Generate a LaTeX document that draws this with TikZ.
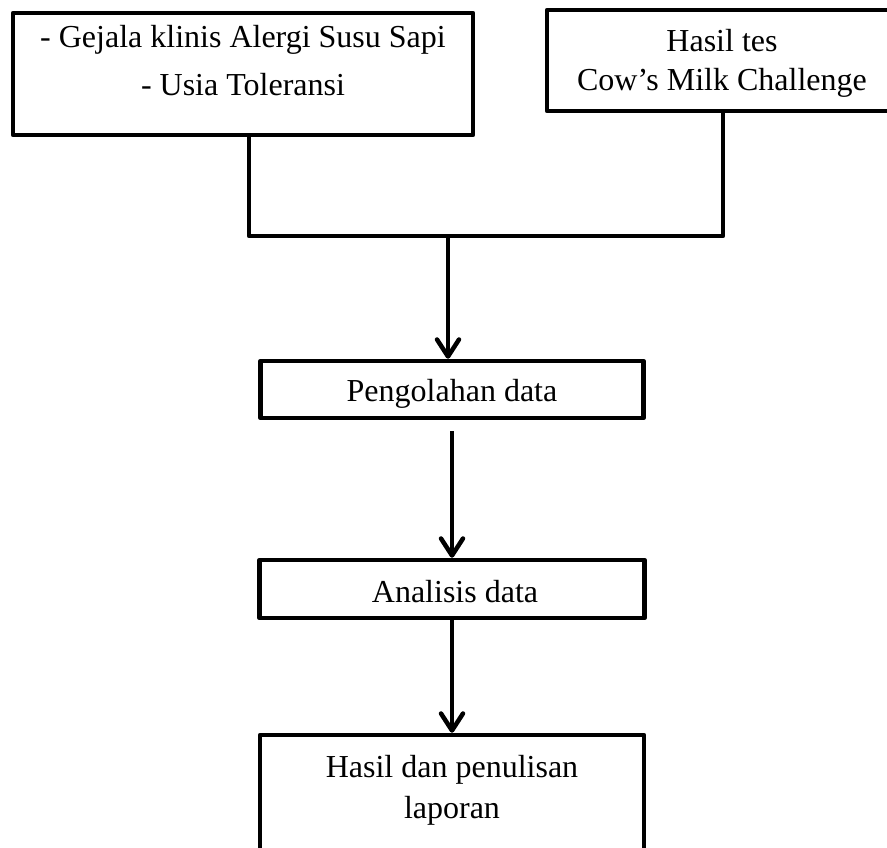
\documentclass[tikz,border=0pt]{standalone}
\usepackage{fontspec}
\setmainfont{Liberation Serif}
\usetikzlibrary{arrows.meta}

\tikzset{
    box/.style={draw, line width=4.5pt, line join=round, inner sep=0pt},
    lbl/.style={anchor=base, align=center, inner sep=0pt, font=\fontsize{32}{48}\selectfont},
    arrow/.style={line width=4.5pt, -{Straight Barb[length=17pt, width=22pt, round]}},
}

\begin{document}
\begin{tikzpicture}[x=1pt, y=-1pt]
    \useasboundingbox (0,0) rectangle (887,848);
    \clip (0,0) rectangle (887,848);

    % boxes
    \node[box, minimum width=460pt, minimum height=122pt] (gejala) at (243,74) {};
    \node[box, minimum width=350pt, minimum height=101pt] (hasilTes) at (722,60.5) {};
    \node[box, minimum width=383pt, minimum height=57pt] (pengolahan) at (452,389.5) {};
    \node[box, minimum width=385pt, minimum height=58pt] (analisis) at (452,589) {};
    \node[box, minimum width=384pt, minimum height=150pt] (laporan) at (452,810) {};

    % texts (base = last line)
    \node[lbl] (gejalaTxt) at (243,96) {- Gejala klinis Alergi Susu Sapi\\- Usia Toleransi};
    \node[lbl, font=\fontsize{32}{39}\selectfont] (hasilTesTxt) at (722,91) {Hasil tes\\Cow’s Milk Challenge};
    \node[lbl] (pengolahanTxt) at (452,401) {Pengolahan data};
    \node[lbl] (analisisTxt) at (455,602) {Analisis data};
    \node[lbl, font=\fontsize{32}{41}\selectfont] (laporanTxt) at (452,818) {Hasil dan penulisan\\laporan};

    % connectors
    \coordinate (join) at (448,236);
    \draw[line width=4.5pt, line join=round] ([xshift=6pt]gejala.south) |- (join) -| ([xshift=1pt]hasilTes.south);
    \draw[arrow] (join) -- (join |- pengolahan.north);
    \draw[arrow] ([yshift=-11pt]pengolahan.south) -- (analisis.north);
    \draw[arrow] (analisis.south) -- (laporan.north);
\end{tikzpicture}
\end{document}
